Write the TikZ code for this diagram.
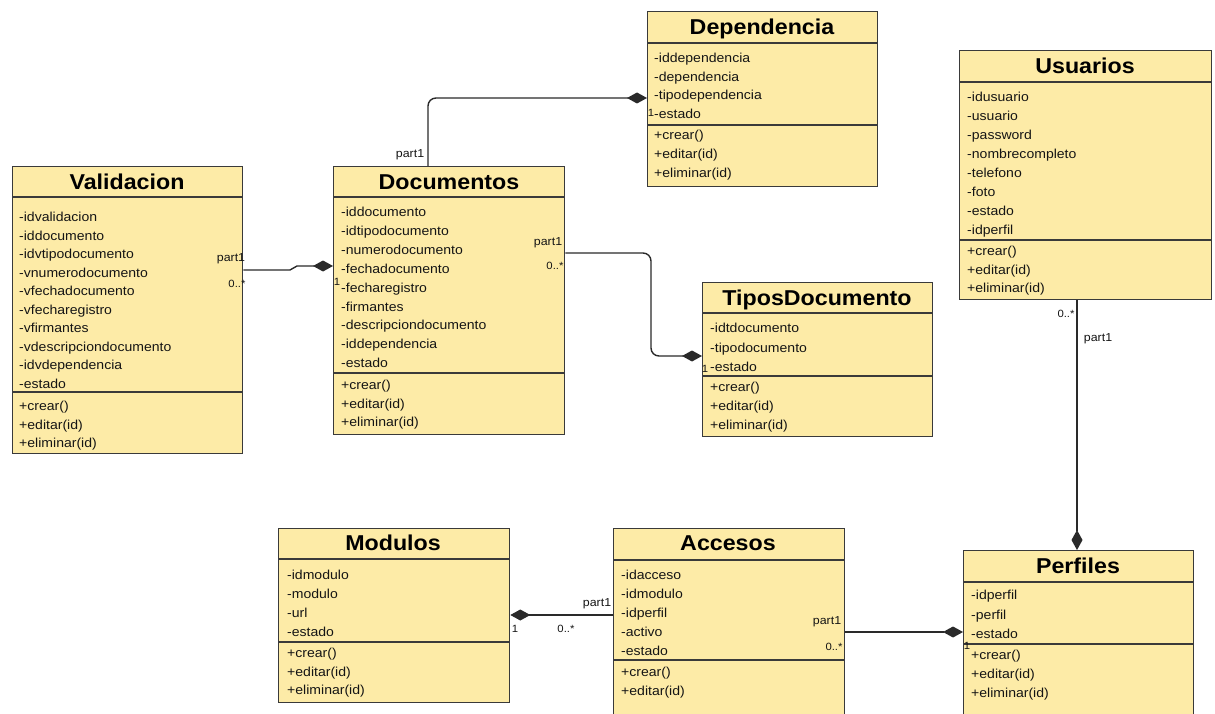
\documentclass[tikz,border=0pt]{standalone}
\usepackage{fontspec}
\setmainfont{Liberation Sans}[FakeStretch=1.08]
\usetikzlibrary{arrows.meta}

\definecolor{classfill}{HTML}{FDEBA7}
\definecolor{bordercol}{HTML}{3A3A3A}
\definecolor{linecol}{HTML}{2A2A2A}
\definecolor{txtcol}{HTML}{151515}

% one text row per entry of the list, starting at y0 and stepping down
\newcommand{\classrows}[4]{%
  \foreach \m [count=\k from 0] in {#4} {
    \node[attr] at (#1, {-(#2+#3*\k)}) {\m};
  }%
}

\begin{document}
\begin{tikzpicture}[x=1pt, y=1pt,
  cls/.style={draw=bordercol, line width=1.3pt, fill=classfill, inner sep=0pt, anchor=north west},
  sepline/.style={draw=bordercol, line width=1.3pt},
  ttl/.style={font=\fontsize{21.5}{21.5}\selectfont\bfseries, text=black, inner sep=0pt, text height=15pt, text depth=0pt},
  attr/.style={font=\fontsize{13}{13}\selectfont, text=txtcol, anchor=west, inner sep=0pt, text height=11pt, text depth=0pt},
  lbl/.style={font=\fontsize{11.5}{11.5}\selectfont, text=txtcol, inner sep=0pt},
  mult/.style={font=\fontsize{10.5}{10.5}\selectfont, text=txtcol, inner sep=0pt},
  assoc/.style={draw=linecol, line width=1.4pt, -{Diamond[length=20pt,width=11pt]}}
]
\useasboundingbox (0,0) rectangle (1215,-714);
\clip (0,0) rectangle (1215,-714);

% ---------- Dependencia ----------
\node[cls, minimum width=230pt, minimum height=175pt] (dep) at (647,-11) {};
\draw[sepline] (647,-43) -- (877,-43);
\draw[sepline] (647,-125) -- (877,-125);
\node[ttl] (depT) at (762,-27) {Dependencia};
\classrows{654}{57}{18.7}{-iddependencia,-dependencia,-tipodependencia,-estado}
\classrows{654}{134}{19}{+crear(),+editar(id),+eliminar(id)}

% ---------- Validacion ----------
\node[cls, minimum width=230pt, minimum height=287pt] (val) at (12,-166) {};
\draw[sepline] (12,-197) -- (242,-197);
\draw[sepline] (12,-392) -- (242,-392);
\node[ttl] (valT) at (127,-182) {Validacion};
\classrows{19}{216}{18.56}{-idvalidacion,-iddocumento,-idvtipodocumento,-vnumerodocumento,-vfechadocumento,-vfecharegistro,-vfirmantes,-vdescripciondocumento,-idvdependencia,-estado}
\classrows{19}{405}{18.5}{+crear(),+editar(id),+eliminar(id)}

% ---------- Documentos ----------
\node[cls, minimum width=231pt, minimum height=268pt] (doc) at (333,-166) {};
\draw[sepline] (333,-197) -- (564,-197);
\draw[sepline] (333,-373) -- (564,-373);
\node[ttl] (docT) at (449,-182) {Documentos};
\classrows{341}{211}{18.9}{-iddocumento,-idtipodocumento,-numerodocumento,-fechadocumento,-fecharegistro,-firmantes,-descripciondocumento,-iddependencia,-estado}
\classrows{341}{384}{18.5}{+crear(),+editar(id),+eliminar(id)}

% ---------- TiposDocumento ----------
\node[cls, minimum width=230pt, minimum height=154pt] (tip) at (702,-282) {};
\draw[sepline] (702,-313) -- (932,-313);
\draw[sepline] (702,-376) -- (932,-376);
\node[ttl] (tipT) at (817,-298) {TiposDocumento};
\classrows{710}{327}{19.5}{-idtdocumento,-tipodocumento,-estado}
\classrows{710}{386}{19}{+crear(),+editar(id),+eliminar(id)}

% ---------- Usuarios ----------
\node[cls, minimum width=252pt, minimum height=249pt] (usu) at (959,-50) {};
\draw[sepline] (959,-82) -- (1211,-82);
\draw[sepline] (959,-240) -- (1211,-240);
\node[ttl] (usuT) at (1085,-66) {Usuarios};
\classrows{967}{96}{19}{-idusuario,-usuario,-password,-nombrecompleto,-telefono,-foto,-estado,-idperfil}
\classrows{967}{250}{18.5}{+crear(),+editar(id),+eliminar(id)}

% ---------- Modulos ----------
\node[cls, minimum width=231pt, minimum height=174pt] (mod) at (278,-528) {};
\draw[sepline] (278,-559) -- (509,-559);
\draw[sepline] (278,-642) -- (509,-642);
\node[ttl] (modT) at (393,-543) {Modulos};
\classrows{287}{574}{19}{-idmodulo,-modulo,-url,-estado}
\classrows{287}{652}{18.5}{+crear(),+editar(id),+eliminar(id)}

% ---------- Accesos ----------
\node[cls, minimum width=231pt, minimum height=195pt] (acc) at (613,-528) {};
\draw[sepline] (613,-560) -- (844,-560);
\draw[sepline] (613,-660) -- (844,-660);
\node[ttl] (accT) at (728,-543) {Accesos};
\classrows{621}{574}{19}{-idacceso,-idmodulo,-idperfil,-activo,-estado}
\classrows{621}{671}{18.5}{+crear(),+editar(id)}

% ---------- Perfiles ----------
\node[cls, minimum width=230pt, minimum height=175pt] (per) at (963,-550) {};
\draw[sepline] (963,-582) -- (1193,-582);
\draw[sepline] (963,-644) -- (1193,-644);
\node[ttl] (perT) at (1078,-566) {Perfiles};
\classrows{971}{594}{19.5}{-idperfil,-perfil,-estado}
\classrows{971}{654}{19}{+crear(),+editar(id),+eliminar(id)}

% ---------- associations ----------
% Documentos -> Dependencia
\draw[assoc, rounded corners=8pt] ([xshift=95pt]doc.north west) |- ([yshift=-87pt]dep.north west);
\node[lbl] (l1a) at (410,-155) {part1};
\node[mult] (l1b) at (651,-113) {1};

% Validacion -> Documentos
\draw[assoc] ([yshift=-104pt]val.north east) -- (290,-270) -- (297,-266) -- ([yshift=-100pt]doc.north west);
\node[lbl] (l2a) at (231,-259) {part1};
\node[mult] (l2b) at (237,-284) {0..*};
\node[mult] (l2c) at (337,-282) {1};

% Documentos -> TiposDocumento
\draw[assoc, rounded corners=8pt] ([yshift=-87pt]doc.north east) -| (651,-356) -- ([yshift=-74pt]tip.north west);
\node[lbl] (l3a) at (548,-243) {part1};
\node[mult] (l3b) at (555,-266) {0..*};
\node[mult] (l3c) at (705,-369) {1};

% Usuarios -> Perfiles
\draw[assoc] ([xshift=118pt]usu.south west) -- ([xshift=114pt]per.north west);
\node[mult] (l4a) at (1066,-314) {0..*};
\node[lbl] (l4b) at (1098,-339) {part1};

% Accesos -> Modulos
\draw[assoc] ([yshift=-87pt]acc.north west) -- ([yshift=-87pt]mod.north east);
\node[lbl] (l5a) at (597,-604) {part1};
\node[mult] (l5b) at (515,-629) {1};
\node[mult] (l5c) at (566,-629) {0..*};

% Accesos -> Perfiles
\draw[assoc] ([yshift=-104pt]acc.north east) -- ([yshift=-82pt]per.north west);
\node[lbl] (l6a) at (827,-622) {part1};
\node[mult] (l6b) at (834,-647) {0..*};
\node[mult] (l6c) at (967,-646) {1};
\end{tikzpicture}
\end{document}
